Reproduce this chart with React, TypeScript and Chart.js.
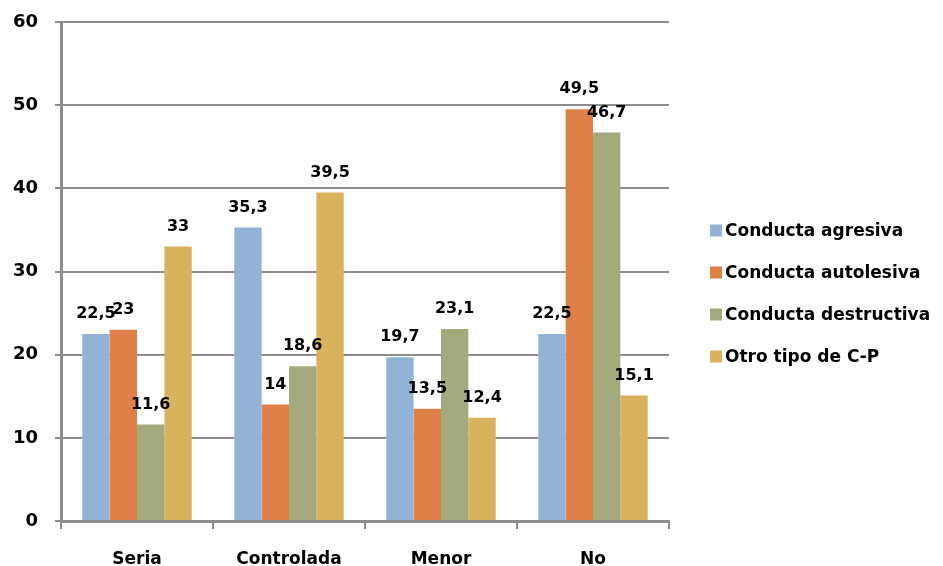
import React, { useEffect, useRef } from "react";
import { Chart, registerables } from "chart.js";

Chart.register(...registerables);

const categories = ["Seria", "Controlada", "Menor", "No"];
const seriesNames = ["Conducta agresiva", "Conducta autolesiva", "Conducta destructiva", "Otro tipo de C-P"];
const agresiva = [22.5, 35.3, 19.7, 22.5];
const autolesiva = [23, 14, 13.5, 49.5];
const destructiva = [11.6, 18.6, 23.1, 46.7];
const otro = [33, 39.5, 12.4, 15.1];
const seriesColors = ["#93B3D6", "#DE8048", "#A3AA7D", "#D9B25E"];

const FONT = "'DejaVu Sans', sans-serif";
const GRID = "#8E8E8E";

const labelPlugin = {
  id: "barLabels",
  afterDatasetsDraw(chart: any) {
    const ctx = chart.ctx;
    ctx.save();
    ctx.font = `bold 16px ${FONT}`;
    ctx.fillStyle = "#000";
    ctx.textAlign = "center";
    ctx.textBaseline = "bottom";
    chart.data.datasets.forEach((ds: any, i: number) => {
      const meta = chart.getDatasetMeta(i);
      meta.data.forEach((el: any, j: number) => {
        const v = ds.data[j];
        const txt = String(v).replace(".", ",");
        ctx.fillText(txt, el.x, el.y - 12);
      });
    });
    ctx.restore();
  },
};

const legendPlugin = {
  id: "sideLegend",
  afterDraw(chart: any) {
    const ctx = chart.ctx;
    const area = chart.chartArea;
    const x0 = area.right + 41;
    const mid = (area.top + area.bottom) / 2 + 22;
    const gap = 42;
    const n = chart.data.datasets.length;
    ctx.save();
    ctx.font = `bold 17px ${FONT}`;
    ctx.textAlign = "left";
    ctx.textBaseline = "middle";
    chart.data.datasets.forEach((ds: any, i: number) => {
      const cy = mid + (i - (n - 1) / 2) * gap;
      ctx.fillStyle = ds.backgroundColor;
      ctx.fillRect(x0, cy - 6, 12, 12);
      ctx.fillStyle = "#000";
      ctx.fillText(ds.label, x0 + 15, cy + 1);
    });
    ctx.restore();
  },
};

export default function App() {
  const ref = useRef<HTMLCanvasElement>(null);
  useEffect(() => {
    document.body.style.margin = "0";
    const values = [agresiva, autolesiva, destructiva, otro];
    const chart = new Chart(ref.current!, {
      type: "bar",
      data: {
        labels: categories,
        datasets: values.map((d, i) => ({
          label: seriesNames[i],
          data: d,
          backgroundColor: seriesColors[i],
          borderWidth: 0,
          barPercentage: 1,
          categoryPercentage: 0.72,
        })),
      },
      options: {
        animation: false,
        responsive: false,
        maintainAspectRatio: false,
        layout: { padding: { top: 22, right: 274, left: 0, bottom: 0 } },
        plugins: {
          tooltip: { enabled: false },
          legend: { display: false },
        },
        scales: {
          x: {
            grid: {
              offset: true,
              drawOnChartArea: false,
              drawTicks: true,
              tickLength: 8,
              color: GRID,
              lineWidth: 2,
            },
            border: { color: GRID, width: 3 },
            ticks: {
              color: "#000",
              padding: 20,
              font: { family: FONT, size: 17, weight: "bold" },
            },
            afterFit(scale: any) {
              scale.height = 45;
              scale.paddingLeft = 0;
              scale.paddingRight = 0;
            },
          },
          y: {
            min: 0,
            max: 60,
            ticks: {
              stepSize: 10,
              color: "#000",
              padding: 17,
              font: { family: FONT, size: 18, weight: "bold" },
            },
            grid: { color: GRID, lineWidth: 2, tickLength: 6 },
            border: { color: GRID, width: 3 },
            afterFit(scale: any) {
              scale.width = 61;
              scale.paddingTop = 0;
              scale.paddingBottom = 0;
            },
          },
        },
      },
      plugins: [labelPlugin, legendPlugin],
    } as any);
    return () => chart.destroy();
  }, []);
  return (
    <div style={{ position: "absolute", left: 0, top: 0, width: 943, height: 566, background: "#fff" }}>
      <canvas ref={ref} width={943} height={566} />
    </div>
  );
}
